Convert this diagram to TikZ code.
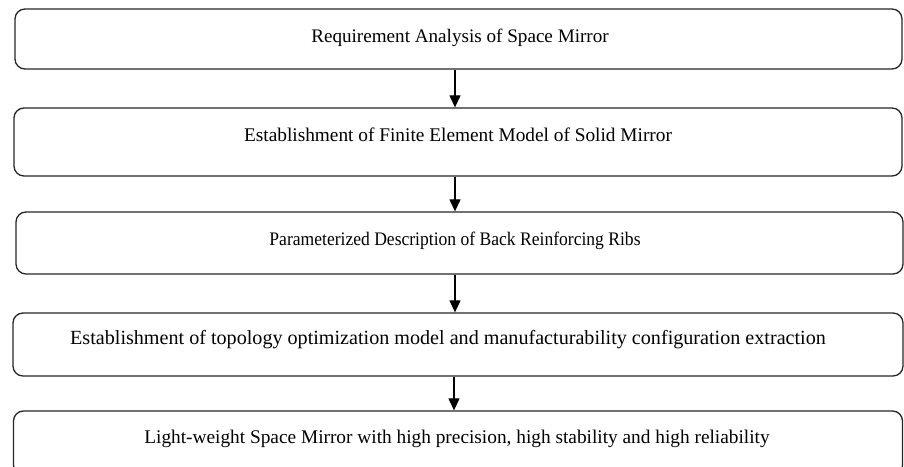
\documentclass[tikz,border=0pt]{standalone}
\usepackage{fontspec}
\setmainfont{Liberation Serif}
\usetikzlibrary{arrows.meta,calc}
\tikzset{
  stepbox/.style={draw=black!85, line width=1.3bp, rounded corners=10bp, inner sep=0pt},
  steptext/.style={inner sep=0pt, anchor=center},
  flowarrow/.style={draw=black, line width=1.2bp, -{Triangle[width=11bp,length=12bp]}}
}
\begin{document}
\begin{tikzpicture}[x=1bp,y=-1bp]
\useasboundingbox (0,0) rectangle (904,467);
\begin{scope}
\clip (0,0) rectangle (904,467);
\node[stepbox, minimum width=887bp, minimum height=60bp] (b1) at (458.5,39) {};
\node[stepbox, minimum width=888bp, minimum height=68bp] (b2) at (458,142) {};
\node[stepbox, minimum width=887bp, minimum height=62bp] (b3) at (459.5,243) {};
\node[stepbox, minimum width=890bp, minimum height=63bp] (b4) at (458,344.5) {};
\node[stepbox, minimum width=889bp, minimum height=64bp] (b5) at (458,443) {};
\end{scope}
\node[steptext, font=\fontsize{19.2}{23}\selectfont] (t1) at (460,38) {Requirement Analysis of Space Mirror};
\node[steptext, font=\fontsize{19.4}{23}\selectfont] (t2) at (458,135) {Establishment of Finite Element Model of Solid Mirror};
\node[steptext, font=\fontsize{19.2}{23}\selectfont] (t3) at (455,241) {\scalebox{0.918}[1]{Parameterized Description of Back Reinforcing Ribs}};
\node[steptext, font=\fontsize{20.2}{24}\selectfont] (t4) at (448,340) {Establishment of topology optimization model and manufacturability configuration extraction};
\node[steptext, font=\fontsize{19.4}{23}\selectfont] (t5) at (457,439) {Light-weight Space Mirror with high precision, high stability and high reliability};
\draw[flowarrow] ([xshift=-3.5bp]b1.south) -- ([xshift=-3.5bp]b1.south |- b2.north);
\draw[flowarrow] ([xshift=-3bp]b2.south) -- ([xshift=-3bp]b2.south |- b3.north);
\draw[flowarrow] ([xshift=-4.5bp]b3.south) -- ([xshift=-4.5bp]b3.south |- b4.north);
\draw[flowarrow] ([xshift=-4bp]b4.south) -- ([xshift=-4bp]b4.south |- b5.north);
\end{tikzpicture}
\end{document}
